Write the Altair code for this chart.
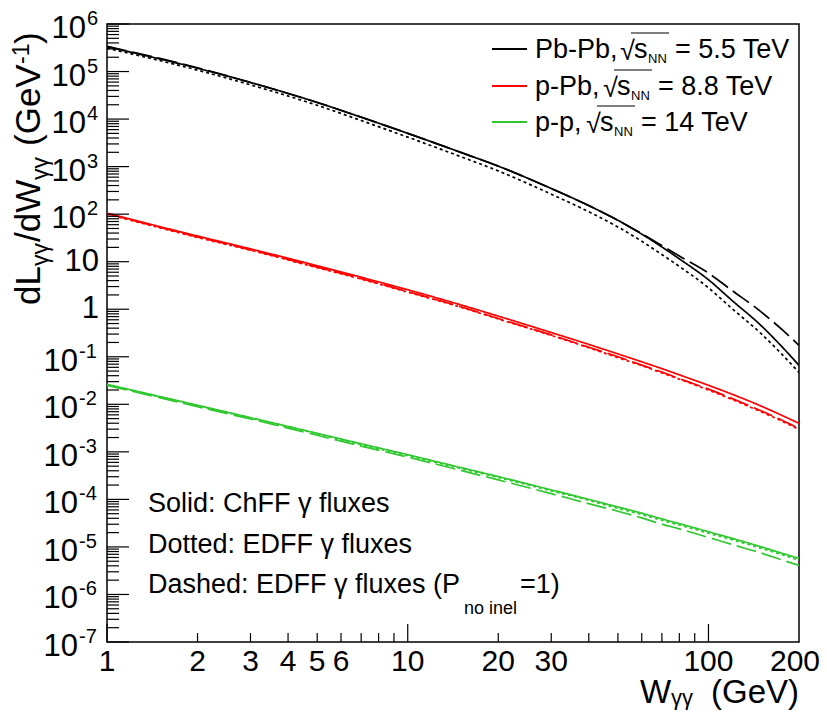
import altair as alt
import pandas as pd

# ---------------- data (log10 of dL/dW in GeV^-1) ----------------
W = [1, 2, 3, 5, 7, 10, 15, 20, 30, 40, 50, 60, 70, 80, 100, 120, 150, 175, 200]

pbpb_solid  = [5.52, 5.07, 4.77, 4.35, 4.04, 3.70, 3.30, 3.01, 2.54, 2.18, 1.87, 1.58, 1.31, 1.06, 0.62, 0.18, -0.35, -0.78, -1.18]
pbpb_dotted = [5.49, 5.03, 4.72, 4.29, 3.97, 3.62, 3.21, 2.91, 2.42, 2.05, 1.73, 1.43, 1.15, 0.90, 0.45, 0.01, -0.52, -0.94, -1.33]
pbpb_dashed = [5.53, 5.08, 4.77, 4.35, 4.04, 3.70, 3.30, 3.01, 2.54, 2.18, 1.87, 1.59, 1.34, 1.12, 0.76, 0.39, -0.06, -0.42, -0.76]

ppb_solid  = [2.02, 1.54, 1.27, 0.915, 0.674, 0.41, 0.093, -0.145, -0.49, -0.74, -0.94, -1.106, -1.25, -1.38, -1.60, -1.79, -2.04, -2.23, -2.40]
ppb_dotted = [2.00, 1.51, 1.24, 0.875, 0.634, 0.36, 0.043, -0.205, -0.55, -0.81, -1.02, -1.186, -1.34, -1.47, -1.70, -1.90, -2.16, -2.35, -2.53]
ppb_dashed = [2.01, 1.52, 1.25, 0.885, 0.644, 0.37, 0.053, -0.195, -0.54, -0.80, -1.00, -1.176, -1.32, -1.46, -1.68, -1.88, -2.14, -2.33, -2.51]

pp_solid  = [-1.58, -2.02, -2.28, -2.61, -2.83, -3.06, -3.33, -3.52, -3.80, -4.00, -4.16, -4.29, -4.41, -4.51, -4.68, -4.82, -5.00, -5.13, -5.24]
pp_dotted = [-1.59, -2.03, -2.29, -2.62, -2.85, -3.08, -3.35, -3.54, -3.82, -4.02, -4.19, -4.32, -4.44, -4.54, -4.71, -4.85, -5.03, -5.16, -5.28]
pp_dashed = [-1.60, -2.05, -2.31, -2.65, -2.88, -3.11, -3.39, -3.59, -3.88, -4.09, -4.25, -4.39, -4.52, -4.62, -4.80, -4.95, -5.13, -5.27, -5.39]

systems = ["Pb-Pb", "p-Pb", "p-p"]
sys_colors = ["#000000", "#ff0000", "#2fc82f"]
styles = ["solid", "dotted", "dashed"]
energies = ["= 5.5 TeV", "= 8.8 TeV", "= 14 TeV"]

x_labels = [1, 2, 3, 4, 5, 6, 10, 20, 30, 100]
x_edge_label = [200]
x_major = [1, 10, 100]
x_minor = [2, 3, 4, 5, 6, 7, 8, 9, 20, 30, 40, 50, 60, 70, 80, 90]
y_exp_pos = [6, 5, 4, 3, 2]
y_exp_neg = [-1, -2, -3, -4, -5, -6, -7]
y_plain = ["10", "1"]
y_plain_vals = [10, 1]

# ---------------- build table ----------------
series = {
    ("Pb-Pb", "solid"): pbpb_solid, ("Pb-Pb", "dotted"): pbpb_dotted, ("Pb-Pb", "dashed"): pbpb_dashed,
    ("p-Pb", "solid"): ppb_solid, ("p-Pb", "dotted"): ppb_dotted, ("p-Pb", "dashed"): ppb_dashed,
    ("p-p", "solid"): pp_solid, ("p-p", "dotted"): pp_dotted, ("p-p", "dashed"): pp_dashed,
}
rows = []
for (s, st), vals in series.items():
    for w, lv in zip(W, vals):
        rows.append({"W": w, "L": 10.0 ** lv, "sys": s, "style": st, "id": s + "_" + st})
df = pd.DataFrame(rows)

PW, PH = 692, 618
xscale = alt.Scale(type="log", domain=[1, 200], nice=False)
yscale = alt.Scale(type="log", domain=[1e-7, 1e6], nice=False)

FONT = "Liberation Sans"

lines = alt.Chart(df).mark_line(strokeWidth=1.7, clip=True, interpolate="monotone").encode(
    x=alt.X("W:Q", scale=xscale, axis=None),
    y=alt.Y("L:Q", scale=yscale, axis=None),
    color=alt.Color("sys:N", scale=alt.Scale(domain=systems, range=sys_colors), legend=None),
    strokeDash=alt.StrokeDash("style:N", scale=alt.Scale(domain=styles, range=[[1, 0], [3, 3], [20, 6]]), legend=None),
    detail="id:N",
)

# ---------------- ticks (inside the frame) ----------------
y_major = [10.0 ** k for k in range(-7, 7)]
y_minor = [m * 10.0 ** k for k in range(-7, 6) for m in range(2, 10)]

def yticks(vals, length):
    return alt.Chart(pd.DataFrame({"v": vals})).mark_rule(color="black", strokeWidth=1.2).encode(
        y=alt.Y("v:Q", scale=yscale, axis=None), x=alt.value(0), x2=alt.value(length))

def xticks(vals, length):
    return alt.Chart(pd.DataFrame({"v": vals})).mark_rule(color="black", strokeWidth=1.2).encode(
        x=alt.X("v:Q", scale=xscale, axis=None), y=alt.value(PH), y2=alt.value(PH - length))

# ---------------- tick labels ----------------
def xlabels(vals, dx):
    d = pd.DataFrame({"v": vals, "t": [str(v) for v in vals]})
    return alt.Chart(d).mark_text(align="center", baseline="top", fontSize=30, color="black", dx=dx).encode(
        x=alt.X("v:Q", scale=xscale, axis=None), y=alt.value(PH + 5), text="t:N")

pos_df = pd.DataFrame({"v": [10.0 ** e for e in y_exp_pos], "e": [str(e) for e in y_exp_pos]})
neg_df = pd.DataFrame({"v": [10.0 ** e for e in y_exp_neg], "e": [str(e) for e in y_exp_neg]})
plain_df = pd.DataFrame({"v": y_plain_vals, "t": y_plain})

def base10(d, x):
    return alt.Chart(d).mark_text(text="10", align="right", baseline="middle", fontSize=31, dy=5, color="black").encode(
        y=alt.Y("v:Q", scale=yscale, axis=None), x=alt.value(x))

def expo(d, x):
    return alt.Chart(d).mark_text(align="left", baseline="middle", fontSize=20, dy=-5, color="black").encode(
        y=alt.Y("v:Q", scale=yscale, axis=None), x=alt.value(x), text="e:N")

plain_lab = alt.Chart(plain_df).mark_text(align="right", baseline="middle", fontSize=31, color="black").encode(
    y=alt.Y("v:Q", scale=yscale, axis=None), x=alt.value(-8), text="t:N")

# ---------------- free text helpers ----------------
def label(text, x, y, size, align="left", angle=None, baseline="alphabetic", color="black"):
    kw = dict(fontSize=size, align=align, baseline=baseline, color=color)
    if angle is not None:
        kw["angle"] = angle
    return alt.Chart(pd.DataFrame({"t": [text]})).mark_text(**kw).encode(
        x=alt.value(x), y=alt.value(y), text="t:N")

def hline(x1, x2, y, color="black", width=1.5):
    return alt.Chart(pd.DataFrame({"a": [0]})).mark_rule(color=color, strokeWidth=width).encode(
        x=alt.value(x1), x2=alt.value(x2), y=alt.value(y))

texts = []
# y title (rotated)
texts += [
    label("dL", -67, 281, 35, angle=270),
    label("γγ", -59, 242, 23, angle=270),
    label("/dW", -67, 218, 35, angle=270),
    label("γγ", -59, 156, 23, angle=270),
    label("(GeV", -67, 122, 35, angle=270),
    label("-1", -78, 40, 23, angle=270),
    label(")", -67, 20, 35, angle=270),
]
# x title
texts += [
    label("W", 533, 679, 33),
    label("γγ", 564, 681, 22),
    label("(GeV)", 692, 679, 33, align="right"),
]
# legend
leg_rows = [
    ("Pb-Pb,", 25, 513),
    ("p-Pb,", 62, 496),
    ("p-p,", 98, 479),
]
for i, (name, yc, xr) in enumerate(leg_rows):
    yb = yc + 9
    xs = xr + 14
    xn = xs + 14
    xe = xn + 27
    texts += [
        hline(385, 420, yc, color=sys_colors[i], width=2),
        label(name, 428, yb, 27),
        label("√", xr, yb + 2, 27),
        label("s", xs, yb, 27),
        label("NN", xn, yb + 5, 13),
        hline(xr + 11, xn + 21, yc - 16, width=1.2),
        label(energies[i], xe, yb, 27),
    ]
# style notes
texts += [
    label("Solid: ChFF γ fluxes", 41, 488, 27),
    label("Dotted: EDFF γ fluxes", 41, 529, 27),
    label("Dashed: EDFF γ fluxes (P", 41, 569, 27),
    label("no inel", 357, 590, 18),
    label("=1)", 413, 569, 27),
]

layers = [
    lines,
    yticks(y_major, 22), yticks(y_minor, 12),
    xticks(x_major, 18), xticks(x_minor, 9),
    xlabels(x_labels, 0), xlabels(x_edge_label, -4),
    base10(pos_df, -21), expo(pos_df, -20),
    base10(neg_df, -29), expo(neg_df, -28),
    plain_lab,
] + texts

chart = alt.layer(*layers).properties(
    width=PW, height=PH,
    autosize=alt.AutoSizeParams(type="none"),
    padding={"left": 99, "top": 16, "right": 20, "bottom": 68},
).configure(font=FONT).configure_view(stroke="black", strokeWidth=1.5)

chart.save("out.html", embed_options={"renderer": "svg", "actions": False})
